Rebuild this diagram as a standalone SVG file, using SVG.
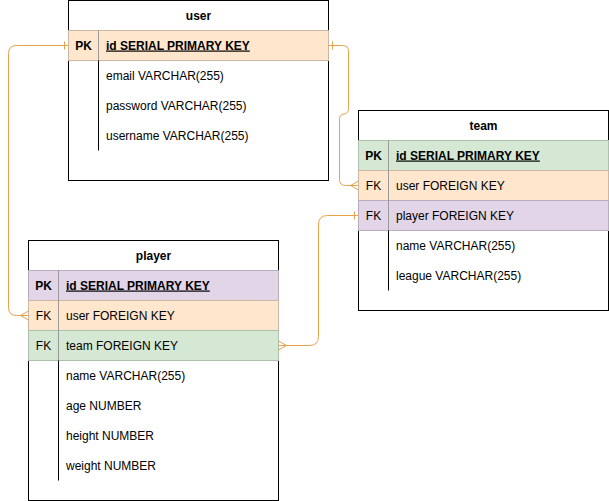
<svg xmlns="http://www.w3.org/2000/svg" width="609" height="501" viewBox="0 0 609 501">
<style>
text{font-family:"Liberation Sans",Arial,Helvetica,sans-serif;font-size:12px;fill:#000}
.h{font-weight:bold;text-anchor:middle}
.pk{font-weight:bold;text-anchor:middle}
.fk{text-anchor:middle}
.pkf{font-weight:bold;text-decoration:underline}
.box{fill:#fff;stroke:#000;stroke-width:1}
.peach{fill:#ffe6cc;stroke:#c9b7a3;stroke-width:1}
.green{fill:#d5e8d4;stroke:#aebfad;stroke-width:1}
.purple{fill:#e1d5e7;stroke:#b8adbd;stroke-width:1}
.div{stroke:#000;stroke-width:1}
.cdiv{stroke:#999;stroke-width:1}
.conn{fill:none;stroke:#e6a24b;stroke-width:1}
</style>
<g id="user">
<rect class="box" x="68.5" y="0.5" width="260" height="180"/>
<text class="h" x="198.5" y="19.5">user</text>
<rect class="peach" x="68.5" y="30.5" width="260" height="30"/>
<line class="cdiv" x1="98.5" y1="30.5" x2="98.5" y2="60.5"/>
<text class="pk" x="83.5" y="49.5">PK</text>
<text class="pkf" x="106" y="49.5">id SERIAL PRIMARY KEY</text>
<line class="div" x1="98.5" y1="60.5" x2="98.5" y2="150.5"/>
<text x="106" y="79.5">email VARCHAR(255)</text>
<text x="106" y="109.5">password VARCHAR(255)</text>
<text x="106" y="139.5">username VARCHAR(255)</text>
</g>
<g id="team">
<rect class="box" x="358.5" y="110.5" width="250" height="200"/>
<text class="h" x="483.5" y="129.5">team</text>
<rect class="green" x="358.5" y="140.5" width="250" height="30"/>
<rect class="peach" x="358.5" y="170.5" width="250" height="30"/>
<rect class="purple" x="358.5" y="200.5" width="250" height="30"/>
<line class="cdiv" x1="388.5" y1="140.5" x2="388.5" y2="230.5"/>
<text class="pk" x="373.5" y="159.5">PK</text>
<text class="pkf" x="396" y="159.5">id SERIAL PRIMARY KEY</text>
<text class="fk" x="373.5" y="189.5">FK</text>
<text x="396" y="189.5">user FOREIGN KEY</text>
<text class="fk" x="373.5" y="219.5">FK</text>
<text x="396" y="219.5">player FOREIGN KEY</text>
<line class="div" x1="388.5" y1="230.5" x2="388.5" y2="290.5"/>
<text x="396" y="249.5">name VARCHAR(255)</text>
<text x="396" y="279.5">league VARCHAR(255)</text>
</g>
<g id="player">
<rect class="box" x="28.5" y="240.5" width="250" height="260"/>
<text class="h" x="153.5" y="259.5">player</text>
<rect class="purple" x="28.5" y="270.5" width="250" height="30"/>
<rect class="peach" x="28.5" y="300.5" width="250" height="30"/>
<rect class="green" x="28.5" y="330.5" width="250" height="30"/>
<line class="cdiv" x1="58.5" y1="270.5" x2="58.5" y2="360.5"/>
<text class="pk" x="43.5" y="289.5">PK</text>
<text class="pkf" x="66" y="289.5">id SERIAL PRIMARY KEY</text>
<text class="fk" x="43.5" y="319.5">FK</text>
<text x="66" y="319.5">user FOREIGN KEY</text>
<text class="fk" x="43.5" y="349.5">FK</text>
<text x="66" y="349.5">team FOREIGN KEY</text>
<line class="div" x1="58.5" y1="360.5" x2="58.5" y2="480.5"/>
<text x="66" y="379.5">name VARCHAR(255)</text>
<text x="66" y="409.5">age NUMBER</text>
<text x="66" y="439.5">height NUMBER</text>
<text x="66" y="469.5">weight NUMBER</text>
</g>
<g id="connectors">
<path class="conn" d="M68.5,45.5 H16.5 Q8.5,45.5 8.5,53.5 V307.5 Q8.5,315.5 16.5,315.5 H28.5"/>
<path class="conn" d="M64.5,41.5 V49.5"/>
<path class="conn" d="M28.5,311 L20.5,315.5 L28.5,320"/>
<path class="conn" d="M328.5,45.5 H342.5 Q348.5,45.5 348.5,51.5 V108.5 Q348.5,113.5 344,114 Q339.5,114.5 339.5,119.5 V179.5 Q339.5,185.5 345.5,185.5 H358.5"/>
<path class="conn" d="M332.5,41.5 V49.5"/>
<path class="conn" d="M358.5,181 L350.5,185.5 L358.5,190"/>
<path class="conn" d="M358.5,215.5 H327.5 Q318.5,215.5 318.5,224.5 V336.5 Q318.5,345.5 309.5,345.5 H278.5"/>
<path class="conn" d="M354.5,211.5 V219.5"/>
<path class="conn" d="M278.5,341 L286.5,345.5 L278.5,350"/>
</g>
</svg>
